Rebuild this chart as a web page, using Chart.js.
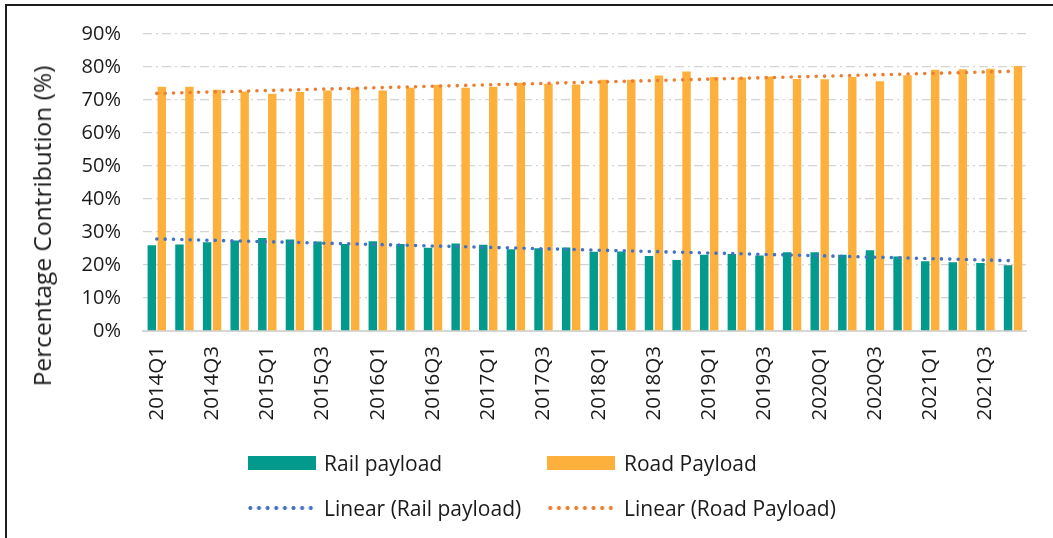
<!DOCTYPE html>
<html>
<head>
<meta charset="utf-8">
<script src="https://cdn.jsdelivr.net/npm/chart.js@4.4.1/dist/chart.umd.min.js"></script>
<style>
  html, body { margin: 0; padding: 0; background: #fff; }
  body { width: 1053px; height: 538px; position: relative; overflow: hidden; font-family: "Open Sans", sans-serif; }
  .frame { position: absolute; left: 5px; top: 4px; width: 1100px; height: 600px; border-top: 2px solid #1e1e1e; border-left: 2px solid #1e1e1e; }
  .wrap { position: absolute; left: 0; top: 0; width: 1053px; height: 538px; }
  .ytitle { position: absolute; left: 42px; top: 226px; font-size: 24.5px; color: #1a1a1a; white-space: nowrap;
            transform: translate(-50%, -50%) rotate(-90deg); line-height: 30px; }
  .sw { position: absolute; height: 14px; width: 68px; }
  .dots { position: absolute; height: 6px; width: 70px; background-repeat: repeat-x; background-size: 8.65px 6px; }
  .lbl { position: absolute; font-size: 21px; color: #1a1a1a; line-height: 28px; white-space: nowrap; }
</style>
</head>
<body>
<div class="frame"></div>
<div class="wrap"><canvas id="chart"></canvas></div>
<div class="ytitle">Percentage Contribution (%)</div>

<div class="sw" style="left:248px; top:456px; background:#019a8d;"></div>
<div class="lbl" style="left:324px; top:449px;">Rail payload</div>
<div class="sw" style="left:547px; top:456px; background:#fdb13c;"></div>
<div class="lbl" style="left:624px; top:449px;">Road Payload</div>

<div class="dots" style="left:246px; top:505px; background-image:radial-gradient(circle, #4472c4 1.7px, transparent 2.3px);"></div>
<div class="lbl" style="left:324px; top:494px;">Linear (Rail payload)</div>
<div class="dots" style="left:546px; top:505px; background-image:radial-gradient(circle, #ed7d31 1.7px, transparent 2.3px);"></div>
<div class="lbl" style="left:624px; top:494px;">Linear (Road Payload)</div>

<script>
(function () {
  "use strict";

  /* ── Data ── */
  const quarters = [
    '2014Q1','2014Q2','2014Q3','2014Q4','2015Q1','2015Q2','2015Q3','2015Q4',
    '2016Q1','2016Q2','2016Q3','2016Q4','2017Q1','2017Q2','2017Q3','2017Q4',
    '2018Q1','2018Q2','2018Q3','2018Q4','2019Q1','2019Q2','2019Q3','2019Q4',
    '2020Q1','2020Q2','2020Q3','2020Q4','2021Q1','2021Q2','2021Q3','2021Q4'
  ];
  const railPayload = [26.0, 26.2, 26.9, 27.4, 28.2, 27.7, 27.1, 26.4, 27.2, 26.4, 25.2, 26.5, 26.1, 24.8, 25.1, 25.3,
                       24.0, 24.1, 22.7, 21.5, 23.1, 23.3, 22.9, 23.9, 23.9, 23.1, 24.5, 22.6, 21.1, 20.8, 20.6, 19.9];
  const roadPayload = [74.0, 74.0, 73.1, 72.6, 71.9, 72.4, 72.9, 73.7, 72.9, 73.7, 74.6, 73.7, 74.0, 75.2, 74.9, 74.7,
                       76.1, 76.1, 77.4, 78.6, 77.0, 76.8, 77.1, 76.4, 76.3, 77.0, 75.7, 77.5, 79.2, 79.3, 79.5, 80.3];
  // trend line ends (first and last quarter)
  const railTrend = [27.9, 21.3];
  const roadTrend = [72.0, 78.7];
  const yTicks = [0, 10, 20, 30, 40, 50, 60, 70, 80, 90];

  const FONT = '"Open Sans", sans-serif';
  const first = quarters[0], last = quarters[quarters.length - 1];

  new Chart(document.getElementById('chart'), {
    data: {
      labels: quarters,
      datasets: [
        { type: 'line', label: 'Linear (Rail payload)', data: [{ x: first, y: railTrend[0] }, { x: last, y: railTrend[1] }],
          borderColor: '#4472c4', borderWidth: 3.6, borderDash: [0, 8.35], borderCapStyle: 'round',
          pointRadius: 0, fill: false, tension: 0, order: 1 },
        { type: 'line', label: 'Linear (Road Payload)', data: [{ x: first, y: roadTrend[0] }, { x: last, y: roadTrend[1] }],
          borderColor: '#ed7d31', borderWidth: 3.6, borderDash: [0, 8.35], borderCapStyle: 'round',
          pointRadius: 0, fill: false, tension: 0, order: 1 },
        { type: 'bar', label: 'Rail payload', data: railPayload, backgroundColor: '#019a8d',
          borderWidth: 0, categoryPercentage: 0.72, barPercentage: 0.85, order: 2 },
        { type: 'bar', label: 'Road Payload', data: roadPayload, backgroundColor: '#fdb13c',
          borderWidth: 0, categoryPercentage: 0.72, barPercentage: 0.85, order: 2 }
      ]
    },
    options: {
      responsive: true, maintainAspectRatio: false, animation: false,
      layout: { padding: { top: 34, right: 24, left: 0, bottom: 0 } },
      plugins: { legend: { display: false }, tooltip: { enabled: false } },
      scales: {
        x: {
          type: 'category',
          grid: { display: false, drawTicks: false },
          border: { display: true, color: '#d6d6d6', width: 2 },
          ticks: {
            autoSkip: false, minRotation: 90, maxRotation: 90, padding: 15,
            font: { family: FONT, size: 20.5 }, color: '#1a1a1a',
            callback: (v, i) => (i % 2 === 0 ? quarters[i] : '')
          },
          afterFit: s => { s.height = 207; }
        },
        y: {
          min: 0, max: 90,
          afterBuildTicks: s => { s.ticks = yTicks.map(v => ({ value: v })); },
          grid: {
            drawTicks: false, lineWidth: 1.3,
            color: c => (c.tick && c.tick.value === 0 ? 'rgba(0,0,0,0)' : '#d4d4d4')
          },
          border: { display: false, dash: [9, 4, 2, 4] },
          ticks: { padding: 22, font: { family: FONT, size: 20 }, color: '#1a1a1a', callback: v => v + '%' },
          title: { display: false },
          afterFit: s => { s.width = 143; }
        }
      }
    }
  });
})();
</script>
</body>
</html>
